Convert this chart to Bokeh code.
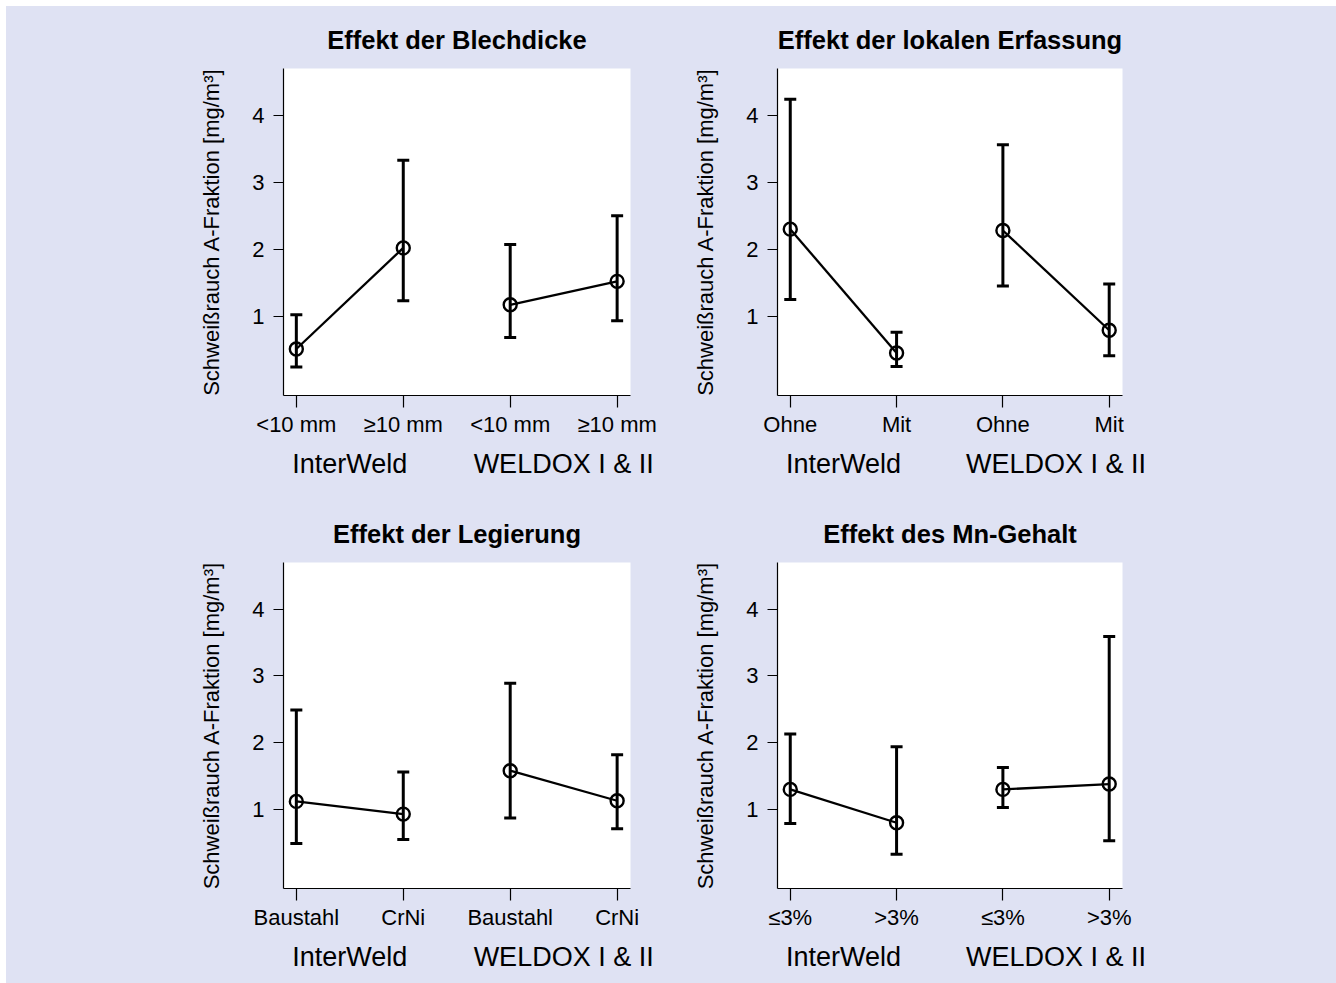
from bokeh.plotting import figure
from bokeh.models import FixedTicker, LinearAxis, Range1d, Spacer
from bokeh.layouts import column, row
from bokeh.embed import file_html
from bokeh.resources import INLINE

BG = "#dfe2f3"
FONT = "Liberation Sans"

groups = ["InterWeld", "WELDOX I & II"]
x_pos = [1, 2, 3, 4]

titles = ["Effekt der Blechdicke", "Effekt der lokalen Erfassung",
          "Effekt der Legierung", "Effekt des Mn-Gehalt"]

cats_blech = ["<10 mm", "\u226510 mm", "<10 mm", "\u226510 mm"]
mean_blech = [0.51, 2.02, 1.17, 1.52]
lo_blech = [0.24, 1.23, 0.68, 0.93]
hi_blech = [1.02, 3.33, 2.07, 2.50]

cats_erf = ["Ohne", "Mit", "Ohne", "Mit"]
mean_erf = [2.30, 0.45, 2.28, 0.79]
lo_erf = [1.25, 0.25, 1.45, 0.41]
hi_erf = [4.24, 0.76, 3.56, 1.48]

cats_leg = ["Baustahl", "CrNi", "Baustahl", "CrNi"]
mean_leg = [1.12, 0.93, 1.58, 1.13]
lo_leg = [0.49, 0.55, 0.87, 0.71]
hi_leg = [2.49, 1.56, 2.89, 1.82]

cats_mn = ["\u22643%", ">3%", "\u22643%", ">3%"]
mean_mn = [1.30, 0.80, 1.30, 1.38]
lo_mn = [0.79, 0.33, 1.03, 0.53]
hi_mn = [2.13, 1.94, 1.63, 3.59]

y_ticks = [1, 2, 3, 4]
y_label = "Schwei\u00dfrauch A-Fraktion [mg/m\u00b3]"


def make_panel(title, cats, mean, lo, hi, width, height, b_left, b_right, b_top, b_bottom):
    p = figure(width=width, height=height, output_backend="svg", toolbar_location=None,
               x_range=Range1d(0.88, 4.125), y_range=Range1d(-0.185, 4.70),
               min_border_left=b_left, min_border_right=b_right,
               min_border_top=b_top, min_border_bottom=b_bottom,
               title=title)
    p.background_fill_color = "white"
    p.border_fill_color = BG
    p.outline_line_color = None
    p.grid.visible = False
    p.title.align = "center"
    p.title.text_font = FONT
    p.title.text_font_size = "25.5px"
    p.title.text_font_style = "bold"
    p.title.text_color = "black"
    p.title.standoff = 29

    xa = p.xaxis[0]
    xa.ticker = FixedTicker(ticks=x_pos)
    xa.major_label_overrides = {x: c for x, c in zip(x_pos, cats)}
    xa.minor_tick_line_color = None
    xa.major_tick_out = 12
    xa.major_tick_in = 0
    xa.major_tick_line_width = 1.2
    xa.axis_line_width = 1.2
    xa.axis_line_color = "black"
    xa.major_tick_line_color = "black"
    xa.major_label_text_font = FONT
    xa.major_label_text_font_size = "22px"
    xa.major_label_text_color = "black"
    xa.major_label_standoff = 4

    ya = p.yaxis[0]
    ya.ticker = FixedTicker(ticks=y_ticks)
    ya.minor_tick_line_color = None
    ya.major_tick_out = 10
    ya.major_tick_in = 0
    ya.major_tick_line_width = 1.2
    ya.axis_line_width = 1.2
    ya.axis_line_color = "black"
    ya.major_tick_line_color = "black"
    ya.major_label_text_font = FONT
    ya.major_label_text_font_size = "22px"
    ya.major_label_text_color = "black"
    ya.major_label_standoff = 9
    ya.axis_label = y_label
    ya.axis_label_text_font = FONT
    ya.axis_label_text_font_size = "22px"
    ya.axis_label_text_font_style = "normal"
    ya.axis_label_text_color = "black"
    ya.axis_label_standoff = 25

    ga = LinearAxis(ticker=FixedTicker(ticks=[1.5, 3.5]),
                    major_label_overrides={1.5: groups[0], 3.5: groups[1]})
    ga.axis_line_color = None
    ga.major_tick_line_color = None
    ga.minor_tick_line_color = None
    ga.major_label_text_font = FONT
    ga.major_label_text_font_size = "27px"
    ga.major_label_text_color = "black"
    ga.major_label_standoff = 3
    p.add_layout(ga, "below")

    # error bars
    p.segment(x0=x_pos, y0=lo, x1=x_pos, y1=hi, line_color="black", line_width=3)
    p.scatter(x=x_pos, y=lo, marker="dash", size=12, line_color="black", line_width=3)
    p.scatter(x=x_pos, y=hi, marker="dash", size=12, line_color="black", line_width=3)
    # connecting lines per group
    p.multi_line(xs=[x_pos[0:2], x_pos[2:4]], ys=[mean[0:2], mean[2:4]],
                 line_color="black", line_width=2.3)
    p.scatter(x=x_pos, y=mean, marker="circle", size=13, fill_color=None,
              line_color="black", line_width=2.4)
    return p


# column 1 figure: frame 283..630 ; column 2 figure: frame 776..1122 (page px)
W1 = 277 + 347 + 60
W2 = 86 + 346 + 214
H1 = 62 + 327 + 95
H2 = 72 + 326 + 95

p1 = make_panel(titles[0], cats_blech, mean_blech, lo_blech, hi_blech, W1, H1, 277, 60, 62, 95)
p2 = make_panel(titles[1], cats_erf, mean_erf, lo_erf, hi_erf, W2, H1, 86, 214, 62, 95)
p3 = make_panel(titles[2], cats_leg, mean_leg, lo_leg, hi_leg, W1, H2, 277, 60, 72, 95)
p4 = make_panel(titles[3], cats_mn, mean_mn, lo_mn, hi_mn, W2, H2, 86, 214, 72, 95)

r1 = row(p1, p2, spacing=0, styles={"background-color": BG})
r2 = row(p3, p4, spacing=0, styles={"background-color": BG})
grid = column(r1, r2, spacing=0, styles={"background-color": BG})
layout = column(Spacer(height=6), row(Spacer(width=6), grid, spacing=0), spacing=0)

open("out.html", "w").write(file_html(layout, INLINE))
